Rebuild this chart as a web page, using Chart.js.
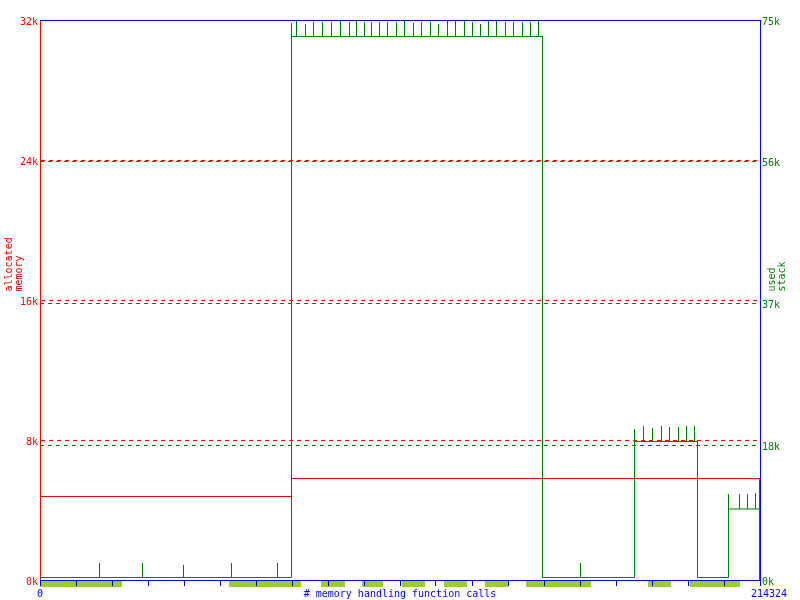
<!DOCTYPE html>
<html><head><meta charset="utf-8">
<script src="https://cdn.jsdelivr.net/npm/chart.js@4"></script>
<style>html,body{margin:0;padding:0;background:#fff}</style>
</head><body>
<canvas id="c" width="800" height="600"></canvas>
<script>
// ---- data ----
const TOTAL_CALLS = 214324;
const HEAP_MAX_K = 32;
const STACK_MAX_K = 75;
const heapTicks = [0, 8, 16, 24, 32];
const stackTicks = [0, 18, 37, 56, 75];
const xTickIntervals = 20;
const xLabelFirst = '0';
const xLabelLast = '214324';

// heap (allocated memory, KiB) as steps
const heapSegStart = [0, 74865];
const heapSegEnd   = [74865, 214175];
const heapSegLevel = [4.771, 5.80];

// stack (used stack, KiB) as steps
const stackSegStart = [0, 74865, 149580, 176966, 195719, 204947];
const stackSegEnd   = [74865, 149580, 176966, 195719, 204947, 214175];
const stackSegLevel = [0.335, 72.79, 0.335, 18.55, 0.335, 9.51];

// short stack peaks between samples
const stackPeakCalls = [17712, 30511, 42716, 57004, 70697,
  74865,
  76353, 79032, 81413, 84092, 86771, 89450, 92130, 94213, 96595, 98678,
  101060, 103441, 106120, 108502, 111181, 113562, 116241, 118622, 121301, 123683,
  126362, 128743, 131125, 133506, 135887, 138566, 140948, 143627, 146008, 148390,
  160892,
  176966, 179645, 182324, 185003, 187385, 190064, 192445, 194827,
  204947, 208222, 210603, 212985];
const stackPeakK = [2.28, 2.28, 2.01, 2.28, 2.28,
  74.55,
  75.0, 74.46, 74.73, 74.73, 74.73, 75.0, 74.73, 75.0, 74.73, 74.73,
  74.73, 74.73, 74.73, 75.0, 74.6, 74.73, 74.73, 74.46, 75.0, 75.0,
  75.0, 74.73, 74.46, 75.0, 75.0, 74.73, 74.73, 74.73, 74.73, 75.0,
  2.28,
  20.22, 20.63, 20.36, 20.63, 20.49, 20.49, 20.63, 20.63,
  11.52, 11.52, 11.52, 11.65];

// time-marker bars under the x axis (call ranges)
const barStart = [0, 56260, 83646, 95850, 107757, 120260, 132464, 144669, 180985, 193487];
const barEnd   = [24409, 77692, 90790, 102102, 114604, 127106, 139311, 164017, 187831, 208371];

// ---- styles ----
const RED = '#ff0000', GREEN = '#008000', BLUE = '#0000ff', BAR = '#9acd32';
const FONT_FAMILY = '"DejaVu Sans Mono", monospace';
const FONT = '10px ' + FONT_FAMILY;
Chart.defaults.font.family = FONT_FAMILY;
Chart.defaults.font.size = 10;

function buildSteps(starts, ends, levels, peakX, peakY) {
  const pts = [{x: starts[0], y: 0}];
  let p = 0;
  for (let s = 0; s < starts.length; s++) {
    const lvl = levels[s];
    pts.push({x: starts[s], y: lvl});
    while (peakX && p < peakX.length && peakX[p] < ends[s]) {
      const x = peakX[p];
      pts.push({x, y: lvl}, {x, y: peakY[p]}, {x, y: lvl});
      p++;
    }
    pts.push({x: ends[s], y: lvl});
  }
  pts.push({x: ends[ends.length - 1], y: 0});
  return pts;
}

const BAR_LEVEL = -0.2286; // just below the x axis, on the heap scale
const barPts = [];
barStart.forEach((s, i) => {
  barPts.push({x: s, y: BAR_LEVEL}, {x: barEnd[i], y: BAR_LEVEL}, {x: barEnd[i], y: null});
});

const xTickValues = Array.from({length: xTickIntervals + 1}, (_, i) => i * TOTAL_CALLS / xTickIntervals);

const hideEnds = (max, color) => (ctx) => (ctx.tick && (ctx.tick.value === 0 || ctx.tick.value === max)) ? 'rgba(0,0,0,0)' : color;

const frameTop = {
  id: 'frameTop',
  beforeDatasetsDraw(chart) {
    const ctx = chart.ctx, a = chart.chartArea;
    ctx.save();
    ctx.strokeStyle = BLUE; ctx.lineWidth = 1;
    ctx.beginPath();
    ctx.moveTo(a.left, Math.round(a.top) + 0.5);
    ctx.lineTo(a.right + 1, Math.round(a.top) + 0.5);
    ctx.stroke();
    ctx.restore();
  }
};

const axisTitles = {
  id: 'axisTitles',
  afterDraw(chart) {
    const ctx = chart.ctx;
    const a = chart.chartArea;
    ctx.save();
    ctx.font = FONT;
    ctx.textBaseline = 'alphabetic';
    const up = (text, x, y, color) => {
      ctx.save(); ctx.translate(x, y); ctx.rotate(-Math.PI / 2);
      ctx.fillStyle = color; ctx.textAlign = 'left'; ctx.fillText(text, 0, 0); ctx.restore();
    };
    up('allocated', 12, 291.5, RED);
    up('memory', 22, 291.5, RED);
    up('used', 775, 291.5, GREEN);
    up('stack', 785, 291.5, GREEN);
    ctx.fillStyle = BLUE; ctx.textAlign = 'center';
    ctx.fillText('# memory handling function calls', (a.left + a.right) / 2, 597);
    ctx.restore();
  }
};

new Chart(document.getElementById('c'), {
  type: 'line',
  data: {
    datasets: [
      { label: 'stack', data: buildSteps(stackSegStart, stackSegEnd, stackSegLevel, stackPeakCalls, stackPeakK),
        yAxisID: 'y2', borderColor: GREEN, borderWidth: 1, pointRadius: 0, tension: 0, fill: false, order: 0 },
      { label: 'heap', data: buildSteps(heapSegStart, heapSegEnd, heapSegLevel),
        yAxisID: 'y', borderColor: RED, borderWidth: 1, pointRadius: 0, tension: 0, fill: false, order: 1 },
      { label: 'bars', data: barPts, yAxisID: 'y', borderColor: BAR, borderWidth: 6, borderCapStyle: 'butt',
        pointRadius: 0, tension: 0, fill: false, spanGaps: false, clip: false, order: 2 }
    ]
  },
  options: {
    responsive: false,
    animation: false,
    events: [],
    layout: { padding: { top: 20, left: 0, right: 0, bottom: 0 } },
    plugins: { legend: { display: false }, tooltip: { enabled: false } },
    scales: {
      x: {
        type: 'linear', position: 'bottom', min: 0, max: TOTAL_CALLS,
        afterBuildTicks: (s) => { s.ticks = xTickValues.map(v => ({value: v})); },
        afterFit: (s) => { s.height = 20; },
        ticks: { autoSkip: false, maxRotation: 0, color: BLUE, padding: 2,
          callback: (v, i) => i === 0 ? xLabelFirst : (i === xTickIntervals ? '   ' + xLabelLast : '') },
        grid: { drawOnChartArea: false, drawTicks: true, tickLength: 6, color: BLUE, z: 1 },
        border: { color: BLUE, width: 1, z: 1 }
      },
      y: {
        type: 'linear', position: 'left', min: 0, max: HEAP_MAX_K,
        afterBuildTicks: (s) => { s.ticks = heapTicks.map(v => ({value: v})); },
        afterFit: (s) => { s.width = 40; },
        ticks: { color: RED, padding: 2, labelOffset: 2, callback: (v) => v + 'k' },
        grid: { drawTicks: false, color: hideEnds(HEAP_MAX_K, RED), lineWidth: 1 },
        border: { color: RED, width: 1, dash: [4, 4] }
      },
      y2: {
        type: 'linear', position: 'right', min: 0, max: STACK_MAX_K,
        afterBuildTicks: (s) => { s.ticks = stackTicks.map(v => ({value: v})); },
        afterFit: (s) => { s.width = 40; },
        ticks: { color: GREEN, padding: 2, labelOffset: 2, callback: (v) => v + 'k' },
        grid: { drawTicks: false, color: hideEnds(STACK_MAX_K, GREEN), lineWidth: 1 },
        border: { color: BLUE, width: 1, dash: [4, 4] }
      }
    }
  },
  plugins: [frameTop, axisTitles]
});
</script>
</body></html>
